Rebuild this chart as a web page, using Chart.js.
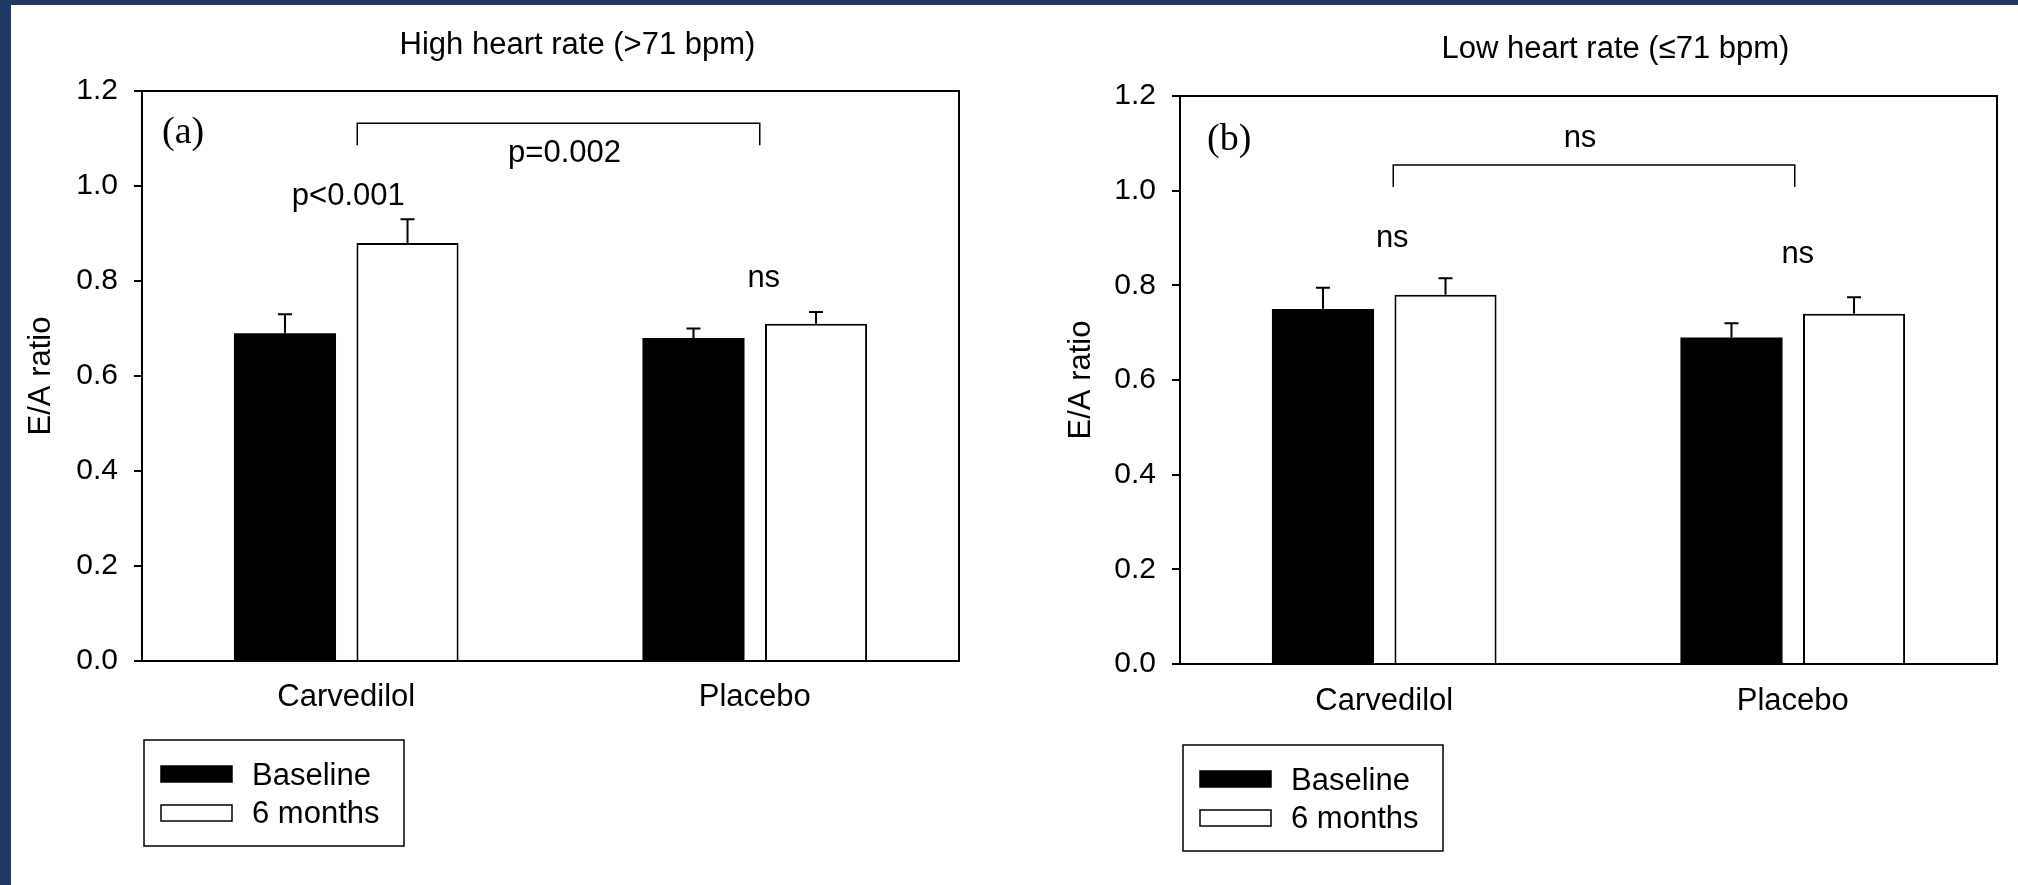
<!DOCTYPE html>
<html>
<head>
<meta charset="utf-8">
<title>E/A ratio by heart rate</title>
<script src="https://cdn.jsdelivr.net/npm/chart.js@4.4.1/dist/chart.umd.min.js"></script>
<style>
  html, body { margin: 0; padding: 0; background: #fff; }
  body { width: 2018px; height: 885px; position: relative; overflow: hidden; }
  .panel { position: absolute; top: 0; width: 1009px; height: 885px; }
  #panelA { left: 0; }
  #panelB { left: 1009px; }
  .edge { position: absolute; background: #1f3864; z-index: 2; }
  #edgeTop { left: 0; top: 0; width: 2018px; height: 5px; }
  #edgeLeft { left: 0; top: 0; width: 11px; height: 885px; }
</style>
</head>
<body>
<div class="edge" id="edgeTop"></div>
<div class="edge" id="edgeLeft"></div>
<div class="panel" id="panelA"><canvas id="chartA"></canvas></div>
<div class="panel" id="panelB"><canvas id="chartB"></canvas></div>

<script>
const groups = ["Carvedilol", "Placebo"];
const seriesNames = ["Baseline", "6 months"];
const yTicks = [0, 0.2, 0.4, 0.6, 0.8, 1.0, 1.2];

// (a) high heart rate, mean and upper error
const highBaseline = [0.69, 0.68];
const highBaselineErr = [0.04, 0.02];
const highSixMonths = [0.88, 0.71];
const highSixMonthsErr = [0.05, 0.025];
const highWithinTests = ["p<0.001", "ns"];
const highBetweenTest = "p=0.002";

// (b) low heart rate
const lowBaseline = [0.75, 0.69];
const lowBaselineErr = [0.045, 0.03];
const lowSixMonths = [0.78, 0.74];
const lowSixMonthsErr = [0.035, 0.035];
const lowWithinTests = ["ns", "ns"];
const lowBetweenTest = "ns";

const SANS = "'Liberation Sans', Arial, sans-serif";
const SERIF = "'Liberation Serif', 'Times New Roman', serif";

Chart.defaults.font.family = SANS;
Chart.defaults.color = "#000";

// error bars, frame, titles, significance marks, legend box
const panelDeco = {
  id: "panelDeco",
  afterDatasetsDraw(chart, args, o) {
    const ctx = chart.ctx;
    const x = chart.scales.x;
    const y = chart.scales.y;
    const a = chart.chartArea;
    ctx.save();
    ctx.strokeStyle = "#000";
    ctx.fillStyle = "#000";
    ctx.lineWidth = 2;

    chart.data.datasets.forEach((ds, i) => {
      chart.getDatasetMeta(i).data.forEach((bar, j) => {
        const top = y.getPixelForValue(ds.data[j] + ds.errors[j]);
        ctx.beginPath();
        ctx.moveTo(bar.x, bar.y);
        ctx.lineTo(bar.x, top);
        ctx.moveTo(bar.x - 7, top);
        ctx.lineTo(bar.x + 7, top);
        ctx.stroke();
      });
    });

    ctx.strokeRect(a.left, a.top, a.right - a.left, a.bottom - a.top);

    // panel title
    ctx.font = "31px " + SANS;
    ctx.textAlign = "center";
    ctx.textBaseline = "alphabetic";
    ctx.fillText(o.title, (a.left + a.right) / 2 + o.titleDx, o.titleBaseline);

    // (a) / (b)
    ctx.font = "38px " + SERIF;
    ctx.textAlign = "left";
    ctx.fillText(o.tag, a.left + o.tagDx, y.getPixelForValue(o.tagY));

    // within-group tests
    ctx.font = "31px " + SANS;
    ctx.textAlign = "center";
    o.within.forEach((t, i) => {
      ctx.fillText(t, x.getPixelForValue(i) + o.withinDx[i], y.getPixelForValue(o.withinY[i]));
    });

    // between-group bracket
    const x0 = x.getPixelForValue(0) + o.bracketDx[0];
    const x1 = x.getPixelForValue(1) + o.bracketDx[1];
    const yt = y.getPixelForValue(o.bracketTop);
    const ye = y.getPixelForValue(o.bracketEnd);
    ctx.lineWidth = 1.5;
    ctx.beginPath();
    ctx.moveTo(x0, ye);
    ctx.lineTo(x0, yt);
    ctx.lineTo(x1, yt);
    ctx.lineTo(x1, ye);
    ctx.stroke();
    ctx.fillText(o.between, (x0 + x1) / 2 + o.betweenDx, y.getPixelForValue(o.betweenY));

    // legend box
    const lx = a.left + o.legendDx;
    const ly = a.bottom + o.legendDy;
    ctx.strokeRect(lx, ly, 260, 106);
    ctx.textAlign = "left";
    chart.data.datasets.forEach((ds, i) => {
      const sy = ly + 26 + i * 39;
      ctx.fillStyle = ds.backgroundColor;
      ctx.fillRect(lx + 17, sy, 71, 16);
      ctx.strokeRect(lx + 17, sy, 71, 16);
      ctx.fillStyle = "#000";
      ctx.fillText(ds.label, lx + 108, ly + 45 + i * 38);
    });
    ctx.restore();
  }
};

function buildPanel(canvasId, baseline, baselineErr, sixMonths, sixMonthsErr, deco) {
  return new Chart(document.getElementById(canvasId), {
    type: "bar",
    data: {
      labels: groups,
      datasets: [
        {
          label: seriesNames[0],
          data: baseline,
          errors: baselineErr,
          backgroundColor: "#000",
          borderWidth: 0,
          categoryPercentage: 0.6,
          barPercentage: 0.833
        },
        {
          label: seriesNames[1],
          data: sixMonths,
          errors: sixMonthsErr,
          backgroundColor: "#fff",
          borderColor: "#000",
          borderWidth: 2,
          categoryPercentage: 0.6,
          barPercentage: 0.833
        }
      ]
    },
    options: {
      responsive: true,
      maintainAspectRatio: false,
      animation: false,
      events: [],
      layout: { padding: { top: deco.top, right: deco.right, left: 0, bottom: 0 } },
      scales: {
        x: {
          grid: { display: false },
          border: { display: false },
          ticks: { font: { size: 31 }, padding: deco.xPad },
          afterFit(axis) { axis.height = deco.xHeight; }
        },
        y: {
          min: 0,
          max: 1.2,
          afterBuildTicks(axis) { axis.ticks = yTicks.map(v => ({ value: v })); },
          grid: { drawOnChartArea: false, tickLength: 8, color: "#000", lineWidth: 2 },
          border: { display: false },
          ticks: { font: { size: 30 }, padding: 16, callback: v => v.toFixed(1) },
          title: { display: true, text: "E/A ratio", font: { size: 31 }, padding: { top: deco.yTitlePad, bottom: 0 } },
          afterFit(axis) { axis.width = deco.yWidth; }
        }
      },
      plugins: { legend: { display: false }, tooltip: { enabled: false }, panelDeco: deco }
    },
    plugins: [panelDeco]
  });
}

buildPanel("chartA", highBaseline, highBaselineErr, highSixMonths, highSixMonthsErr, {
  title: "High heart rate (>71 bpm)", titleDx: 27, titleBaseline: 53.5,
  tag: "(a)", tagDx: 20, tagY: 1.09,
  within: highWithinTests, withinY: [0.96, 0.787], withinDx: [2, 9],
  between: highBetweenTest, betweenY: 1.05, betweenDx: 6,
  bracketTop: 1.132, bracketEnd: 1.086, bracketDx: [11, 5],
  top: 91, right: 50, yWidth: 142, xHeight: 224, xPad: 10, yTitlePad: 23,
  legendDx: 2, legendDy: 79
});

buildPanel("chartB", lowBaseline, lowBaselineErr, lowSixMonths, lowSixMonthsErr, {
  title: "Low heart rate (\u226471 bpm)", titleDx: 27, titleBaseline: 57.5,
  tag: "(b)", tagDx: 27, tagY: 1.086,
  within: lowWithinTests, withinY: [0.881, 0.847], withinDx: [8, 5],
  between: lowBetweenTest, betweenY: 1.092, betweenDx: -14,
  bracketTop: 1.054, bracketEnd: 1.008, bracketDx: [9, 2],
  top: 96, right: 21, yWidth: 171, xHeight: 221, xPad: 11, yTitlePad: 54,
  legendDx: 3, legendDy: 81
});
</script>
</body>
</html>
